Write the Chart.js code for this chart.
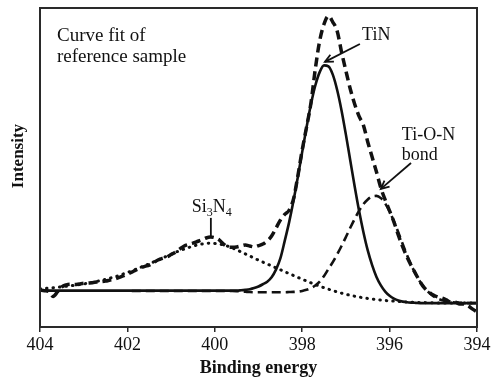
<!DOCTYPE html>
<html>
<head>
<meta charset="utf-8">
<script src="https://cdn.jsdelivr.net/npm/chart.js@4.4.1/dist/chart.umd.min.js"></script>
<style>
  html, body { margin: 0; padding: 0; background: #fff; overflow: hidden; }
  #wrap { width: 501px; height: 381px; }
</style>
</head>
<body>
<div id="wrap"><canvas id="chart" width="501" height="381"></canvas></div>
<script>
// Binding energy grid (eV), high to low
const energies = [
  404, 403.9, 403.8, 403.7, 403.6, 403.5, 403.4, 403.3, 403.2, 403.1,
  403, 402.9, 402.8, 402.7, 402.6, 402.5, 402.4, 402.3, 402.2, 402.1,
  402, 401.9, 401.8, 401.7, 401.6, 401.5, 401.4, 401.3, 401.2, 401.1,
  401, 400.9, 400.8, 400.7, 400.6, 400.5, 400.4, 400.3, 400.2, 400.1,
  400, 399.9, 399.8, 399.7, 399.6, 399.5, 399.4, 399.3, 399.2, 399.1,
  399, 398.9, 398.8, 398.7, 398.6, 398.5, 398.4, 398.3, 398.2, 398.1,
  398, 397.9, 397.8, 397.7, 397.6, 397.5, 397.4, 397.3, 397.2, 397.1,
  397, 396.9, 396.8, 396.7, 396.6, 396.5, 396.4, 396.3, 396.2, 396.1,
  396, 395.9, 395.8, 395.7, 395.6, 395.5, 395.4, 395.3, 395.2, 395.1,
  395, 394.9, 394.8, 394.7, 394.6, 394.5, 394.4, 394.3, 394.2, 394.1,
  394
];

// Measured N 1s spectrum (arb. units)
const measured = [
  11.6, 11.4, 11.2, 9.6, 11.0, 12.6, 13.2, 13.4, 13.3, 13.5,
  13.7, 13.8, 13.9, 14.1, 14.2, 14.4, 14.7, 15.0, 15.5, 16.0,
  16.6, 17.2, 17.9, 18.5, 19.0, 19.4, 20.2, 21.0, 21.5, 21.9,
  22.7, 23.5, 24.5, 25.4, 25.9, 26.3, 26.8, 27.3, 27.9, 28.2,
  28.0, 27.3, 26.0, 25.1, 25.0, 25.1, 25.4, 25.7, 25.4, 25.1,
  25.5, 26.0, 27.0, 28.5, 31.0, 33.5, 35.3, 36.6, 40.1, 47.3,
  55.5, 62.7, 70.2, 80.9, 89.7, 95.0, 97.5, 95.6, 92.8, 86.2,
  80.3, 74.6, 69.9, 66.1, 63.3, 58.0, 53.3, 48.6, 43.6, 39.8,
  36.4, 32.9, 28.8, 25.1, 21.9, 19.1, 16.6, 14.1, 12.2, 11.0,
  10.0, 9.4, 9.1, 8.5, 7.8, 7.8, 7.2, 7.2, 6.6, 5.6,
  4.7
];

// Fitted TiN component
const fitTiN = [
  11.4, 11.4, 11.4, 11.4, 11.4, 11.4, 11.4, 11.4, 11.4, 11.4,
  11.4, 11.4, 11.4, 11.4, 11.4, 11.4, 11.4, 11.4, 11.4, 11.4,
  11.4, 11.4, 11.4, 11.4, 11.4, 11.4, 11.4, 11.4, 11.4, 11.4,
  11.4, 11.4, 11.4, 11.4, 11.4, 11.4, 11.4, 11.4, 11.4, 11.4,
  11.4, 11.4, 11.4, 11.4, 11.4, 11.4, 11.5, 11.65, 11.85, 12.2,
  12.7, 13.4, 14.2, 15.6, 18.0, 21.5, 27.0, 32.8, 39.5, 47.0,
  54.9, 62.6, 69.8, 75.7, 79.9, 82.0, 81.7, 79.1, 74.3, 67.9,
  60.3, 52.2, 44.1, 36.5, 29.8, 24.0, 19.4, 15.7, 13.05, 11.1,
  9.8, 8.9, 8.3, 7.95, 7.75, 7.64, 7.57, 7.5, 7.5, 7.5,
  7.5, 7.5, 7.5, 7.5, 7.5, 7.5, 7.5, 7.5, 7.5, 7.5,
  7.5
];

// Fitted Ti-O-N bond component
const fitTiON = [
  null, null, null, null, null, null, null, null, null, null,
  null, null, null, null, null, null, null, null, null, null,
  null, 11.3, 11.3, 11.3, 11.3, 11.3, 11.3, 11.3, 11.3, 11.3,
  11.3, 11.3, 11.3, 11.3, 11.3, 11.3, 11.3, 11.3, 11.3, 11.3,
  11.3, 11.3, 11.3, 11.3, 11.3, 11.25, 11.15, 11.05, 10.95, 10.9,
  10.9, 10.9, 10.9, 10.9, 10.9, 10.9, 10.9, 10.95, 11.0, 11.1,
  11.3, 11.65, 12.2, 13.0, 14.2, 16.0, 18.2, 20.35, 22.8, 25.4,
  28.2, 31.1, 33.85, 36.4, 38.5, 40.0, 40.9, 41.1, 40.4, 38.7,
  36.2, 33.1, 29.6, 26.0, 22.5, 19.3, 16.5, 14.15, 12.25, 10.8,
  9.7, 8.93, 8.4, 8.05, 7.82, 7.68, 7.6, 7.55, 7.5, 7.5,
  7.5
];

// Fitted Si3N4 component
const fitSi3N4 = [
  12.0, 12.1, 12.2, 12.3, 12.45, 12.6, 12.75, 12.9, 13.1, 13.3,
  13.5, 13.75, 14.0, 14.3, 14.6, 14.95, 15.3, 15.7, 16.1, 16.6,
  17.1, 17.6, 18.15, 18.7, 19.25, 19.8, 20.4, 21.0, 21.6, 22.2,
  22.8, 23.4, 23.95, 24.45, 24.9, 25.35, 25.7, 26.0, 26.2, 26.3,
  26.2, 26.0, 25.7, 25.3, 24.8, 24.2, 23.55, 22.9, 22.25, 21.6,
  20.95, 20.35, 19.75, 19.15, 18.55, 17.95, 17.35, 16.75, 16.15, 15.55,
  15.0, 14.4, 13.85, 13.3, 12.8, 12.3, 11.85, 11.4, 11.0, 10.6,
  10.25, 9.95, 9.65, 9.4, 9.15, 8.95, 8.75, 8.6, 8.45, 8.3,
  8.2, 8.1, 8.0, 7.9, 7.85, 7.8, 7.75, 7.7, 7.65, 7.6,
  7.6, 7.55, 7.55, 7.55, 7.55, 7.55, 7.55, 7.55, 7.55, 7.55,
  7.55
];

const xTicks = [404, 402, 400, 398, 396, 394];

const SERIF = '"Liberation Serif", "Times New Roman", serif';
const INK = '#111';

const toPoints = arr => energies.map((e, i) => ({ x: e, y: arr[i] }));

// Peak labels and their pointers, in data units (eV, intensity)
const notes = {
  tin:   { at: [396.63, 90.0], text: 'TiN', arrow: [[396.68, 88.7], [397.48, 83.1]] },
  tion:  { at: [395.72, 58.6], lines: ['Ti-O-N', 'bond'], arrow: [[395.51, 51.4], [396.20, 43.3]] },
  si3n4: { at: [400.07, 36.1], pointer: [[400.09, 34.2], [400.09, 28.5]] }
};

function drawArrow(ctx, x0, y0, x1, y1) {
  ctx.beginPath();
  ctx.moveTo(x0, y0);
  ctx.lineTo(x1, y1);
  ctx.stroke();
  const ang = Math.atan2(y1 - y0, x1 - x0);
  const len = 9, spread = 0.45;
  ctx.beginPath();
  ctx.moveTo(x1 - len * Math.cos(ang - spread), y1 - len * Math.sin(ang - spread));
  ctx.lineTo(x1, y1);
  ctx.lineTo(x1 - len * Math.cos(ang + spread), y1 - len * Math.sin(ang + spread));
  ctx.stroke();
}

const overlay = {
  id: 'overlay',
  afterDraw(chart) {
    const { ctx, chartArea: a, scales: { x, y } } = chart;
    const px = p => [x.getPixelForValue(p[0]), y.getPixelForValue(p[1])];
    ctx.save();

    // plot frame
    ctx.strokeStyle = '#2a2a2a';
    ctx.lineWidth = 2;
    ctx.strokeRect(a.left, a.top, a.right - a.left, a.bottom - a.top);

    ctx.fillStyle = INK;
    ctx.strokeStyle = INK;
    ctx.textBaseline = 'alphabetic';
    ctx.textAlign = 'left';

    // caption inside the plot
    ctx.font = '19px ' + SERIF;
    ctx.fillText('Curve fit of', a.left + 17, a.top + 33);
    ctx.fillText('reference sample', a.left + 17, a.top + 54);

    ctx.font = '18px ' + SERIF;
    ctx.lineWidth = 1.8;

    // TiN
    let [tx, ty] = px(notes.tin.at);
    ctx.fillText(notes.tin.text, tx, ty);
    let [a0x, a0y] = px(notes.tin.arrow[0]);
    let [a1x, a1y] = px(notes.tin.arrow[1]);
    drawArrow(ctx, a0x, a0y, a1x, a1y);

    // Ti-O-N bond
    [tx, ty] = px(notes.tion.at);
    ctx.fillText(notes.tion.lines[0], tx, ty);
    ctx.fillText(notes.tion.lines[1], tx, ty + 20);
    [a0x, a0y] = px(notes.tion.arrow[0]);
    [a1x, a1y] = px(notes.tion.arrow[1]);
    drawArrow(ctx, a0x, a0y, a1x, a1y);

    // Si3N4 with subscripts
    [tx, ty] = px(notes.si3n4.at);
    const parts = [['Si', false], ['3', true], ['N', false], ['4', true]];
    const fontMain = '18px ' + SERIF, fontSub = '12px ' + SERIF;
    let total = 0;
    parts.forEach(([t, sub]) => { ctx.font = sub ? fontSub : fontMain; total += ctx.measureText(t).width; });
    let cx = tx - total / 2;
    parts.forEach(([t, sub]) => {
      ctx.font = sub ? fontSub : fontMain;
      ctx.fillText(t, cx, sub ? ty + 4 : ty);
      cx += ctx.measureText(t).width;
    });
    const [p0x, p0y] = px(notes.si3n4.pointer[0]);
    const [p1x, p1y] = px(notes.si3n4.pointer[1]);
    ctx.beginPath();
    ctx.moveTo(p0x, p0y);
    ctx.lineTo(p1x, p1y);
    ctx.stroke();

    // y-axis title
    ctx.font = 'bold 17px ' + SERIF;
    ctx.textAlign = 'center';
    ctx.textBaseline = 'middle';
    ctx.translate(19, y.getPixelForValue(53.6));
    ctx.rotate(-Math.PI / 2);
    ctx.fillText('Intensity', 0, 0);

    ctx.restore();
  }
};

new Chart(document.getElementById('chart'), {
  type: 'line',
  data: {
    datasets: [
      {
        label: 'Measured',
        data: toPoints(measured),
        borderColor: INK,
        borderWidth: 3.5,
        borderDash: [9, 5],
        cubicInterpolationMode: 'monotone'
      },
      {
        label: 'TiN',
        data: toPoints(fitTiN),
        borderColor: INK,
        borderWidth: 2.6,
        cubicInterpolationMode: 'monotone'
      },
      {
        label: 'Ti-O-N bond',
        data: toPoints(fitTiON),
        borderColor: INK,
        borderWidth: 2.6,
        borderDash: [9, 5],
        cubicInterpolationMode: 'monotone'
      },
      {
        label: 'Si3N4',
        data: toPoints(fitSi3N4),
        borderColor: INK,
        borderWidth: 3,
        borderDash: [0.5, 6],
        borderCapStyle: 'round',
        cubicInterpolationMode: 'monotone'
      }
    ]
  },
  options: {
    responsive: false,
    animation: false,
    devicePixelRatio: 1,
    layout: { padding: { top: 8, right: 24, left: 0, bottom: 0 } },
    elements: { point: { radius: 0 }, line: { fill: false } },
    plugins: { legend: { display: false }, tooltip: { enabled: false } },
    scales: {
      x: {
        type: 'linear',
        reverse: true,
        min: 394,
        max: 404,
        afterBuildTicks: s => { s.ticks = xTicks.map(v => ({ value: v })); },
        afterFit: s => { s.height = 54; },
        ticks: {
          color: INK,
          font: { family: SERIF, size: 18 },
          padding: 2,
          maxRotation: 0,
          autoSkip: false
        },
        grid: {
          display: true,
          drawOnChartArea: false,
          drawTicks: true,
          tickLength: 5,
          color: '#2a2a2a',
          lineWidth: 1.5
        },
        border: { display: false },
        title: {
          display: true,
          text: 'Binding energy',
          color: INK,
          font: { family: SERIF, size: 18, weight: 'bold' },
          padding: { top: 0, bottom: 2 }
        }
      },
      y: {
        min: 0,
        max: 100,
        afterFit: s => { s.width = 40; },
        ticks: { display: false },
        grid: { display: false },
        border: { display: false }
      }
    }
  },
  plugins: [overlay]
});
</script>
</body>
</html>
